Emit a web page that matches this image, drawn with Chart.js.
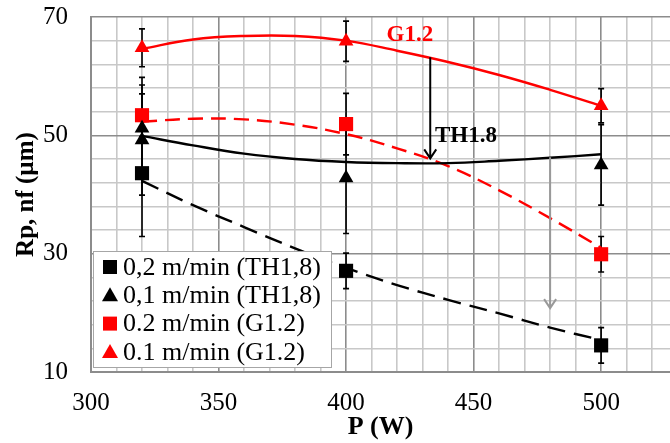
<!DOCTYPE html>
<html>
<head>
<meta charset="utf-8">
<script src="https://cdn.jsdelivr.net/npm/chart.js@4/dist/chart.umd.min.js"></script>
<style>
  html, body { margin: 0; padding: 0; background: #fff; }
  #wrap { width: 670px; height: 443px; }
</style>
</head>
<body>
<div id="wrap"><canvas id="myChart" width="670" height="443"></canvas></div>
<script>
// moc (W) dla punktow pomiarowych
const powerX = [320, 400, 500];
// punkty trojkatow TH1,8 - przy 320 W sa dwa znaczniki
const triThX = [320, 320, 400, 500];

// wartosci Rp, nf (um)
const sqTh = [43.6, 27.1, 14.5];        // 0,2 m/min (TH1,8)
const triTh = [51.2, 49.2, 42.8, 45.0]; // 0,1 m/min (TH1,8)
const sqG = [53.4, 51.9, 29.9];         // 0.2 m/min (G1.2)
const triG = [64.8, 65.9, 55.0];        // 0.1 m/min (G1.2)

// bledy (+/-)
const errSqTh = [10.7, 3.0, 3.0];
const errTriTh = [8.6, 9.3, 9.4, 6.8];
const errSqG = [3.6, 5.2, 3.0];
const errTriG = [3.2, 3.4, 2.9];

// linie trendu
const trendX = [320, 340, 360, 380, 400, 420, 440, 460, 480, 500];
const trendSqTh = [42.3, 38.2, 34.5, 30.9, 27.6, 24.7, 22.2, 19.9, 17.5, 15.4];
const trendTriTh = [49.9, 48.3, 46.9, 46.0, 45.5, 45.3, 45.3, 45.7, 46.2, 46.8];
const trendSqG = [52.3, 52.8, 52.7, 51.8, 50.2, 47.8, 44.8, 40.7, 36.0, 31.0];
const trendTriG = [64.6, 66.2, 66.8, 66.8, 66.0, 64.3, 62.4, 60.2, 57.7, 55.0];

const seriesNames = ['0,2 m/min (TH1,8)', '0,1 m/min (TH1,8)', '0.2 m/min (G1.2)', '0.1 m/min (G1.2)'];

// podpisy i strzalki
const noteText = ['G1.2', 'TH1.8'];
const noteX = [425, 447];
const noteY = [67.0, 49.9];
const noteColor = ['#ff0000', '#000000'];
const arrowX = [433, 480];
const arrowFrom = [63.2, 46.3];
const arrowTo = [46.1, 20.8];
const arrowColor = ['#000000', '#999999'];

const xTicks = [];
for (let v = 300; v <= 520; v += 10) xTicks.push(v);
const yTicks = [];
for (let v = 10; v <= 70; v += 4) yTicks.push(v);

const pts = (xs, ys) => ys.map((y, i) => ({ x: xs[i], y: y }));

const serif = "'Liberation Serif', 'Times New Roman', serif";

function trendSet(ys, color, dash) {
    return {
        label: '', data: pts(trendX, ys), showLine: true, pointRadius: 0,
        borderColor: color, borderWidth: 2.4, borderDash: dash,
        tension: 0.4, fill: false, order: 5, legend: false
    };
}

function markSet(label, xs, ys, errs, color, style, r) {
    return {
        label: label, data: pts(xs, ys), errs: errs, showLine: false,
        pointStyle: style, pointRadius: r, pointHoverRadius: r,
        backgroundColor: color, borderColor: color, borderWidth: 0, order: 1, legend: true
    };
}

const datasets = [
    trendSet(trendSqTh, '#000000', [18, 9]),
    trendSet(trendTriTh, '#000000', []),
    trendSet(trendSqG, '#ff0000', [15, 8]),
    trendSet(trendTriG, '#ff0000', []),
    markSet(seriesNames[0], powerX, sqTh, errSqTh, '#000000', 'rect', 10),
    markSet(seriesNames[1], triThX, triTh, errTriTh, '#000000', 'triangle', 8.5),
    markSet(seriesNames[2], powerX, sqG, errSqG, '#ff0000', 'rect', 10),
    markSet(seriesNames[3], powerX, triG, errTriG, '#ff0000', 'triangle', 8.5)
];

// slupki bledow (pod znacznikami)
const errorBars = {
    id: 'errorBars',
    beforeDatasetsDraw(chart) {
        const { ctx, scales: { x, y } } = chart;
        ctx.save();
        ctx.strokeStyle = '#000';
        ctx.lineWidth = 1.6;
        chart.data.datasets.forEach(ds => {
            if (!ds.errs) return;
            ds.data.forEach((p, i) => {
                const px = x.getPixelForValue(p.x);
                const top = y.getPixelForValue(p.y + ds.errs[i]);
                const bot = y.getPixelForValue(p.y - ds.errs[i]);
                ctx.beginPath();
                ctx.moveTo(px, top); ctx.lineTo(px, bot);
                ctx.moveTo(px - 3, top); ctx.lineTo(px + 3, top);
                ctx.moveTo(px - 3, bot); ctx.lineTo(px + 3, bot);
                ctx.stroke();
            });
        });
        ctx.restore();
    }
};

// strzalki i podpisy
const notes = {
    id: 'notes',
    afterDatasetsDraw(chart) {
        const { ctx, scales: { x, y } } = chart;
        ctx.save();
        arrowX.forEach((ax, i) => {
            const px = x.getPixelForValue(ax);
            const y1 = y.getPixelForValue(arrowFrom[i]);
            const y2 = y.getPixelForValue(arrowTo[i]);
            ctx.strokeStyle = arrowColor[i];
            ctx.lineWidth = 2;
            ctx.beginPath();
            ctx.moveTo(px, y1); ctx.lineTo(px, y2);
            ctx.moveTo(px - 6, y2 - 9); ctx.lineTo(px, y2); ctx.lineTo(px + 6, y2 - 9);
            ctx.stroke();
        });
        ctx.font = 'bold 23px ' + serif;
        ctx.textAlign = 'center';
        ctx.textBaseline = 'middle';
        noteText.forEach((t, i) => {
            ctx.fillStyle = noteColor[i];
            ctx.fillText(t, x.getPixelForValue(noteX[i]), y.getPixelForValue(noteY[i]));
        });
        ctx.restore();
    }
};

// legenda w obszarze wykresu
const boxLegend = {
    id: 'boxLegend',
    afterDraw(chart) {
        const { ctx, chartArea } = chart;
        const bx = chartArea.left + 2, by = 251, bw = 238, bh = 116;
        ctx.save();
        ctx.fillStyle = '#fff';
        ctx.fillRect(bx, by, bw, bh);
        ctx.strokeStyle = '#a6a6a6';
        ctx.lineWidth = 1;
        ctx.strokeRect(bx + 0.5, by + 0.5, bw, bh);
        ctx.font = '26px ' + serif;
        ctx.textBaseline = 'middle';
        const marks = chart.data.datasets.filter(d => d.legend);
        marks.forEach((ds, i) => {
            const cy = by + 16 + i * 28.3;
            const cx = bx + 17;
            ctx.fillStyle = ds.backgroundColor;
            if (ds.pointStyle === 'rect') {
                ctx.fillRect(cx - 7, cy - 7, 14, 14);
            } else {
                ctx.beginPath();
                ctx.moveTo(cx, cy - 8); ctx.lineTo(cx + 8, cy + 6); ctx.lineTo(cx - 8, cy + 6);
                ctx.closePath(); ctx.fill();
            }
            ctx.fillStyle = '#000';
            ctx.fillText(ds.label, bx + 30, cy + 1);
        });
        ctx.restore();
    }
};

const ctx = document.getElementById('myChart').getContext('2d');
const myChart = new Chart(ctx, {
    type: 'scatter',
    data: { datasets: datasets },
    plugins: [errorBars, notes, boxLegend],
    options: {
        responsive: false,
        animation: false,
        layout: { autoPadding: false, padding: { top: 17, right: 0, left: 0, bottom: 0 } },
        plugins: { legend: { display: false }, tooltip: { enabled: false } },
        scales: {
            x: {
                type: 'linear', min: 300, max: 527,
                afterBuildTicks: s => { s.ticks = xTicks.map(v => ({ value: v })); },
                afterFit: s => { s.height = 71; s.paddingLeft = 0; s.paddingRight = 0; },
                grid: {
                    color: c => (c.tick && c.tick.value % 50 === 0) ? '#8c8c8c' : '#c8c8c8',
                    lineWidth: 1.6, drawTicks: false
                },
                border: { color: '#8c8c8c', width: 2 },
                ticks: {
                    autoSkip: false, maxRotation: 0, padding: 16, color: '#000',
                    font: { family: serif, size: 25 },
                    callback: v => (v % 50 === 0 ? v : '')
                },
                title: {
                    display: true, text: 'P (W)', color: '#000',
                    font: { family: serif, size: 26, weight: 'bold' }, padding: { top: 0, bottom: 0 }
                }
            },
            y: {
                type: 'linear', min: 10, max: 70,
                afterBuildTicks: s => { s.ticks = yTicks.map(v => ({ value: v })); },
                afterFit: s => { s.width = 91; s.paddingTop = 0; s.paddingBottom = 0; },
                grid: {
                    color: c => (c.tick && (c.tick.value - 10) % 20 === 0) ? '#8c8c8c' : '#c8c8c8',
                    lineWidth: 1.6, drawTicks: false
                },
                border: { color: '#8c8c8c', width: 2 },
                ticks: {
                    autoSkip: false, padding: 23, color: '#000',
                    font: { family: serif, size: 25 },
                    callback: v => ((v - 10) % 20 === 0 ? v : '')
                },
                title: {
                    display: true, text: 'Rp, nf (µm)', color: '#000',
                    font: { family: serif, size: 25, weight: 'bold' }, padding: { top: 12, bottom: 0 }
                }
            }
        }
    }
});
</script>
</body>
</html>
